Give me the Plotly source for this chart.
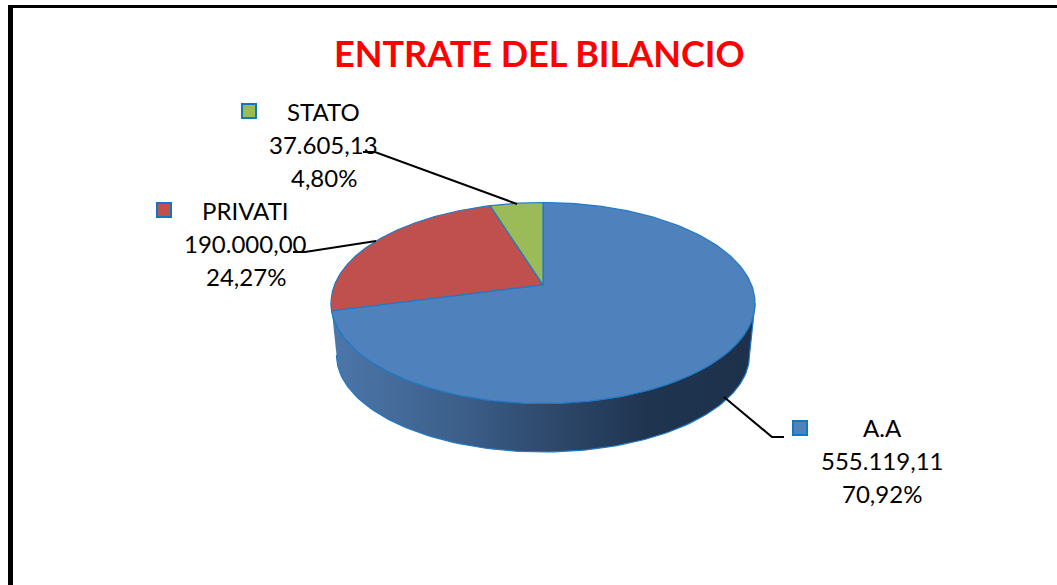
import numpy as np
import plotly.graph_objects as go

# ---- data ----
categories = ["A.A", "PRIVATI", "STATO"]
values = [555119.11, 190000.00, 37605.13]
value_labels = ["555.119,11", "190.000,00", "37.605,13"]
percent_labels = ["70,92%", "24,27%", "4,80%"]
title_text = "ENTRATE DEL BILANCIO"

# ---- style ----
colors = ["#4f81bd", "#c0504d", "#9bbb59"]
edge = "#2079c4"
FONT = "Lato"
W, H = 1057, 585
CX, CY, RX, RY = 543.0, 303.0, 212.0, 100.5   # top face ellipse
TILT = 0.18                                   # perspective shift of the pie centre
BCY, BRX, BRY = 355.0, 206.5, 97.0            # bottom face ellipse


def project(theta):
    """Clockwise angle from 12 o'clock on the pie -> picture position (perspective)."""
    u, v = np.sin(theta), np.cos(theta)
    d = 1 + TILT * v
    x = u * np.sqrt(1 - TILT ** 2) / d
    s = (v + TILT) / d
    return CX + RX * x, CY - RY * s


apex_x, apex_y = CX, CY - RY * TILT

fig = go.Figure()

# side wall
t = np.linspace(0, np.pi, 121)
wall_x = np.r_[CX - RX * np.cos(t), CX + BRX * np.cos(t)]
wall_y = np.r_[CY + RY * np.sin(t), BCY + BRY * np.sin(t)]
fig.add_trace(go.Scatter(
    x=wall_x, y=wall_y, mode="lines", fill="toself",
    line=dict(color=edge, width=1.2),
    fillgradient=dict(type="horizontal", colorscale=[
        [0.0, "#4c77aa"], [0.30, "#3c5f8a"], [0.55, "#2c4668"],
        [0.75, "#1f344f"], [1.0, "#1d314b"]]),
    hoverinfo="skip", showlegend=False))

# top face slices, clockwise from 12 o'clock
fractions = np.array(values) / sum(values)
edges = np.r_[0, np.cumsum(fractions)] * 2 * np.pi
for i, name in enumerate(categories):
    th = np.linspace(edges[i], edges[i + 1], 200)
    rx, ry = project(th)
    fig.add_trace(go.Scatter(
        x=np.r_[apex_x, rx, apex_x], y=np.r_[apex_y, ry, apex_y],
        mode="lines", fill="toself", fillcolor=colors[i],
        line=dict(color=edge, width=1.2), name=name,
        hoverinfo="name", showlegend=False))

# legend keys inside the data labels
key_x = [800, 164, 249]
key_y = [428, 210, 111]
fig.add_trace(go.Scatter(
    x=key_x, y=key_y, mode="markers",
    marker=dict(symbol="square", size=14, color=colors, line=dict(color="#1377c0", width=2)),
    hoverinfo="skip", showlegend=False))

# data labels
label_x = [882, 245.5, 323.5]
label_y = [427, 210, 111]
LINE = 33
anns = []
for i, name in enumerate(categories):
    for j, txt in enumerate([name, value_labels[i], percent_labels[i]]):
        anns.append(dict(x=label_x[i], y=label_y[i] + j * LINE, text=txt, showarrow=False,
                         xanchor="center", yanchor="middle",
                         font=dict(family=FONT, size=24, color="#000000")))
anns.append(dict(x=539.5, y=53, text="<b>" + title_text + "</b>", showarrow=False,
                 xanchor="center", yanchor="middle",
                 font=dict(family=FONT, size=36, color="#ff0000")))

# leader lines
leaders = [
    "M 724 397 L 772 437 L 784 437",
    "M 293 252 L 305 252 L 376 241",
    "M 363 152 L 375 152 L 517 204",
]
shapes = [dict(type="path", path=p, xref="x", yref="y",
               line=dict(color="#000000", width=2), layer="above") for p in leaders]
# frame: heavy left and top rules
shapes += [
    dict(type="rect", x0=8, x1=13, y0=5, y1=H, xref="x", yref="y",
         fillcolor="#000000", line=dict(width=0)),
    dict(type="rect", x0=8, x1=W, y0=5, y1=8, xref="x", yref="y",
         fillcolor="#000000", line=dict(width=0)),
]

fig.update_layout(
    width=W, height=H, margin=dict(l=0, r=0, t=0, b=0),
    paper_bgcolor="#ffffff", plot_bgcolor="#ffffff",
    xaxis=dict(range=[0, W], visible=False, fixedrange=True),
    yaxis=dict(range=[H, 0], visible=False, fixedrange=True),
    annotations=anns, shapes=shapes, showlegend=False)

fig.write_html("out.html", config={"displayModeBar": False},
               post_script="document.body.style.margin='0';document.body.style.overflow='hidden';")
